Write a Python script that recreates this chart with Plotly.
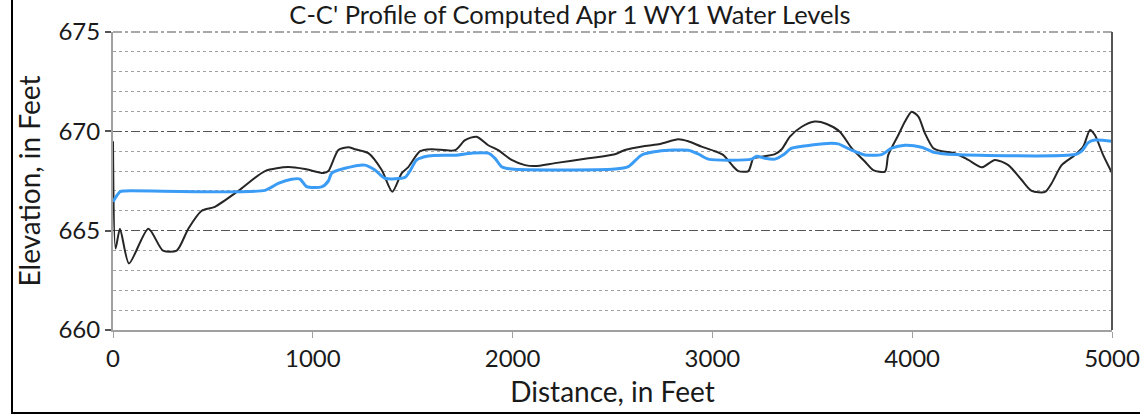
import plotly.graph_objects as go

# ---- data ----
land_x = [0, 13, 35, 80, 177, 250, 319, 377, 444, 510, 627, 761, 877, 961, 1053, 1078, 1128, 1178,
          1211, 1278, 1345, 1398, 1445, 1478, 1537, 1595, 1712, 1762, 1820, 1878, 1928, 1995, 2062,
          2112, 2212, 2379, 2512, 2562, 2662, 2738, 2829, 2879, 2946, 3013, 3055, 3105, 3130, 3180,
          3205, 3230, 3313, 3347, 3388, 3447, 3513, 3572, 3638, 3697, 3764, 3805, 3864, 3880, 3930,
          3964, 3997, 4031, 4064, 4106, 4147, 4214, 4281, 4348, 4414, 4481, 4548, 4598, 4665, 4698,
          4748, 4815, 4856, 4890, 4915, 4956, 5000]
land_y = [669.5, 664.1, 665.1, 663.35, 665.1, 664.0, 664.0, 665.1, 666.0, 666.2, 667.0, 668.0, 668.2,
          668.1, 667.9, 668.0, 669.06, 669.2, 669.1, 668.9, 668.05, 666.96, 667.9, 668.2, 669.0,
          669.1, 669.05, 669.56, 669.73, 669.3, 669.05, 668.56, 668.3, 668.25, 668.4, 668.64, 668.85,
          669.06, 669.26, 669.36, 669.6, 669.5, 669.23, 669.0, 668.8, 668.22, 668.0, 668.0, 668.64,
          668.7, 668.85, 669.1, 669.73, 670.23, 670.49, 670.37, 669.98, 669.15, 668.47, 668.05,
          667.97, 668.8, 669.8, 670.49, 670.99, 670.74, 669.9, 669.15, 669.0, 668.9, 668.56, 668.19,
          668.56, 668.3, 667.55, 667.0, 666.95, 667.39, 668.3, 668.81, 669.23, 670.07, 669.8, 668.8,
          667.9]

water_x = [0, 35, 60, 761, 827, 894, 936, 969, 1044, 1078, 1095, 1161, 1261, 1311, 1361, 1461, 1486,
           1520, 1578, 1712, 1795, 1878, 1912, 1945, 1995, 2512, 2579, 2646, 2729, 2879, 2929, 2979,
           3196, 3222, 3263, 3313, 3355, 3397, 3497, 3597, 3630, 3697, 3764, 3847, 3897, 3964, 4047,
           4114, 4214, 4815, 4848, 4881, 4915, 5000]
water_y = [666.46, 666.96, 667.0, 667.03, 667.38, 667.59, 667.6, 667.22, 667.2, 667.5, 667.9, 668.14,
           668.3, 668.05, 667.64, 667.68, 668.0, 668.56, 668.76, 668.8, 668.9, 668.9, 668.64, 668.22,
           668.1, 668.1, 668.22, 668.81, 669.0, 669.05, 668.86, 668.6, 668.6, 668.75, 668.64, 668.6,
           668.82, 669.15, 669.31, 669.4, 669.37, 669.05, 668.81, 668.83, 669.15, 669.3, 669.2,
           668.93, 668.83, 668.83, 669.0, 669.43, 669.56, 669.5]

x_ticks = [0, 1000, 2000, 3000, 4000, 5000]
y_ticks = [660, 665, 670, 675]

title_text = "C-C' Profile of Computed Apr 1 WY1 Water Levels"
x_title = "Distance, in Feet"
y_title = "Elevation, in Feet"

FONT = "Lato, 'Open Sans', sans-serif"
TXT = "#1a1a1a"

fig = go.Figure()
fig.add_trace(go.Scatter(x=land_x, y=land_y, mode="lines",
                         line=dict(color="#262626", width=2, shape="spline", smoothing=0.7),
                         showlegend=False, hoverinfo="skip"))
fig.add_trace(go.Scatter(x=water_x, y=water_y, mode="lines",
                         line=dict(color="#3b9cf5", width=3, shape="spline", smoothing=0.7),
                         showlegend=False, hoverinfo="skip"))

fig.update_layout(
    width=1140, height=418,
    margin=dict(l=113, r=28, t=32, b=88, autoexpand=False),
    paper_bgcolor="white", plot_bgcolor="white",
    font=dict(family=FONT, color=TXT),
    title=dict(text=title_text, x=0.5, xanchor="center",
               xref="container", yref="container", y=1 - 15.5 / 418, yanchor="middle",
               font=dict(size=25.5, family=FONT, color=TXT)),
)

fig.update_xaxes(
    range=[0, 5000], tickvals=x_ticks, ticktext=[str(v) for v in x_ticks],
    automargin=False,
    showgrid=False, zeroline=False,
    showline=True, linecolor="#a0a0a0", linewidth=2,
    ticks="outside", ticklen=6, tickcolor="#a0a0a0", tickwidth=1,
    tickfont=dict(size=24, family=FONT, color=TXT),
    title=dict(text=x_title, font=dict(size=28, family=FONT, color=TXT), standoff=12),
)

fig.update_yaxes(
    range=[660, 675], tickvals=y_ticks, ticktext=[str(v) for v in y_ticks],
    automargin=False,
    showgrid=True, gridcolor="#555555", gridwidth=1.2, griddash="dashdot",
    minor=dict(dtick=1, showgrid=True, gridcolor="#a0a0a0", gridwidth=1, griddash="dot"),
    zeroline=False,
    showline=True, linecolor="#a0a0a0", linewidth=2,
    ticks="outside", ticklen=6, tickcolor="#555555", tickwidth=2,
    tickfont=dict(size=24, family=FONT, color=TXT),
    title=dict(text=y_title, font=dict(size=28, family=FONT, color=TXT), standoff=10),
)

# right edge line of the plot area and outer frame
fig.add_shape(type="line", xref="paper", yref="paper", x0=1, x1=1, y0=0, y1=1,
              line=dict(color="#555555", width=2), layer="above")
fig.add_shape(type="line", xref="paper", yref="paper", x0=0, x1=1, y0=1, y1=1,
              line=dict(color="#555555", width=1.2, dash="dashdot"), layer="below")
fig.add_shape(type="rect", xref="paper", yref="paper", x0=-0.1011, x1=1.04, y0=-0.2785, y1=1.12,
              line=dict(color="black", width=2), fillcolor="rgba(0,0,0,0)", layer="above")

# remove the browser's default page margin so the figure sits at the window's corner
fig.write_html("out.html", config={"displayModeBar": False},
               post_script="document.body.style.margin='0';")
